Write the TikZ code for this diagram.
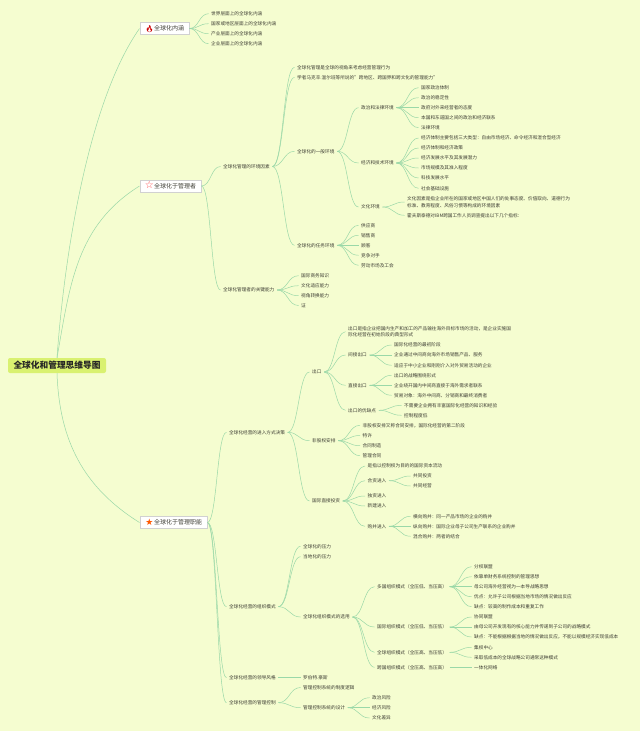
\documentclass[tikz,border=0pt]{standalone}
\usepackage{fontspec}
\setmainfont{Noto Sans CJK SC}
\newfontfamily\emojifont{Noto Emoji}
\newfontfamily\symfont{DejaVu Sans}
\usetikzlibrary{calc}
\definecolor{bg}{HTML}{F5FDD0}
\definecolor{rootfill}{HTML}{D9F170}
\definecolor{line}{HTML}{9AD8A8}
\definecolor{ink}{HTML}{3E3E34}
\newcommand{\ic}[3]{\makebox[9.5pt]{\raisebox{-0.4pt}[0pt][0pt]{\fontsize{#2}{#2}\selectfont\color{#1}#3}}}
\begin{document}
\begin{tikzpicture}[x=1pt,y=-1pt]
\tikzstyle{r}=[rounded corners=2pt,fill=rootfill,minimum width=98pt,minimum height=15pt,inner sep=0pt,font=\fontsize{8.7}{10}\selectfont\bfseries,text=black!85]
\tikzstyle{b}=[anchor=west,draw=black!18,fill=white,minimum height=12pt,inner xsep=5pt,inner ysep=0pt,font=\fontsize{6}{8}\selectfont,text=ink]
\tikzstyle{t}=[anchor=west,inner xsep=2.5pt,inner ysep=0.5pt,xshift=-2.5pt,font=\fontsize{4.65}{6.7}\selectfont,text=ink,align=left]
\tikzstyle{link}=[draw=line,line width=0.5pt,to path={let \p1=(\tikztostart),\p2=(\tikztotarget) in .. controls ({0.5*\x1+0.5*\x2},\y1) and ({0.5*\x1+0.5*\x2},\y2) .. (\tikztotarget)}]
\tikzstyle{main}=[draw=line,line width=0.5pt]
\useasboundingbox[fill=bg] (0,0) rectangle (640,731);

\node[r] (root) at (57,365.5) {全球化和管理思维导图};
\node[b] (b1) at (139.5,28.5) {\ic{red!80!black}{7}{\emojifont 🔥}全球化内涵};
\node[b] (b2) at (139.5,186) {\ic{red!70}{10}{\symfont ☆}全球化于管理者};
\node[b] (b3) at (139.5,522.5) {\ic{orange!70!red}{9}{\symfont ★}全球化于管理职能};

\node[t] (b1a) at (211,13.7) {世界层面上的全球化内涵};
\node[t] (b1b) at (211,23.7) {国家或地区层面上的全球化内涵};
\node[t] (b1c) at (211,33.7) {产业层面上的全球化内涵};
\node[t] (b1d) at (211,43.7) {企业层面上的全球化内涵};

\node[t] (b2a) at (223,166.5) {全球化管理的环境因素};
\node[t] (b2b) at (223,290) {全球化管理者的关键能力};
\node[t] (b2a1) at (297,67.3) {全球化管理是全球的视角来考虑经营管理行为};
\node[t] (b2a2) at (297,77.3) {学者马克辛.温尔班等所说的"跨地区、跨国界和跨文化的管理能力"};
\node[t] (gen) at (297,151.3) {全球化的一般环境};
\node[t] (task) at (297,245.3) {全球化的任务环境};
\node[t] (pol) at (361,107.7) {政治和法律环境};
\node[t] (eco) at (361,163) {经济和技术环境};
\node[t] (cul) at (361,207) {文化环境};
\node[t] (pol1) at (421,87.7) {国家政治体制};
\node[t] (pol2) at (421,97.7) {政治的稳定性};
\node[t] (pol3) at (421,107.7) {政府对外来经营者的态度};
\node[t] (pol4) at (421,117.7) {本国和东道国之间的政治和经济联系};
\node[t] (pol5) at (421,127.7) {法律环境};
\node[t] (eco1) at (421,138) {经济体制主要包括三大类型：自由市场经济、命令经济和混合型经济};
\node[t] (eco2) at (421,148) {经济体制和经济政策};
\node[t] (eco3) at (421,158) {经济发展水平及其发展潜力};
\node[t] (eco4) at (421,168) {市场规模及其准入程度};
\node[t] (eco5) at (421,178) {科技发展水平};
\node[t] (eco6) at (421,188.3) {社会基础设施};
\node[t] (cul1) at (407,202) {文化因素是指企业所在的国家或地区中国人们的处事态度、价值取向、道德行为\\标准、教育程度、风俗习惯等构成的环境因素};
\node[t] (cul2) at (407,215.3) {霍夫斯泰德对IBM跨国工作人员调查提出以下几个指标：};
\node[t] (task1) at (361,225.3) {供应商};
\node[t] (task2) at (361,235.3) {销售商};
\node[t] (task3) at (361,245.3) {顾客};
\node[t] (task4) at (361,255.3) {竞争对手};
\node[t] (task5) at (361,265.3) {劳动市场及工会};
\node[t] (b2b1) at (301,275.7) {国际商务知识};
\node[t] (b2b2) at (301,285.7) {文化适应能力};
\node[t] (b2b3) at (301,295.7) {视角转换能力};
\node[t] (b2b4) at (301,305.5) {证};

\node[t] (entry) at (229,432.3) {全球化经营的进入方式决策};
\node[t] (org) at (229,606.7) {全球化经营的组织模式};
\node[t] (lead) at (229,677.7) {全球化经营的领导风格};
\node[t] (ctrl) at (229,702.7) {全球化经营的管理控制};
\node[t] (exp) at (312,372) {出口};
\node[t] (non) at (312,440.7) {非股权安排};
\node[t] (fdi) at (312,501) {国际直接投资};
\node[t] (exp0) at (348,331.7) {出口是指企业把国内生产和加工的产品输往海外目标市场的活动，是企业实施国\\际化经营在初始阶段的典型形式};
\node[t] (ind) at (348,355) {间接出口};
\node[t] (dir) at (348,385.3) {直接出口};
\node[t] (pro) at (348,410.3) {出口的优缺点};
\node[t] (ind1) at (394,345) {国际化经营的最初阶段};
\node[t] (ind2) at (394,355) {企业通过中间商向海外市场销售产品、服务};
\node[t] (ind3) at (394,365.3) {适应于中小企业和刚刚介入对外贸易活动的企业};
\node[t] (dir1) at (394,375.3) {出口的战略围绕形式};
\node[t] (dir2) at (394,385.3) {企业绕开国内中间商直接于海外需求者联系};
\node[t] (dir3) at (394,395.3) {贸易对象：海外中间商、分销商和最终消费者};
\node[t] (pro1) at (404,405.3) {不需要企业拥有丰富国际化经营的知识和经验};
\node[t] (pro2) at (404,415.3) {控制程度低};
\node[t] (non1) at (362.5,425.3) {非股权安排又称合同安排，国际化经营的第二阶段};
\node[t] (non2) at (362.5,435.5) {特许};
\node[t] (non3) at (362.5,445.7) {合同制造};
\node[t] (non4) at (362.5,455.7) {管理合同};
\node[t] (fdi1) at (367.5,466) {是指以控制权为目的的国际资本流动};
\node[t] (joint) at (367.5,480.7) {合资进入};
\node[t] (fdi3) at (367.5,496) {独资进入};
\node[t] (fdi4) at (367.5,506) {新建进入};
\node[t] (merge) at (367.5,526.3) {购并进入};
\node[t] (joint1) at (413,476) {共同投资};
\node[t] (joint2) at (413,486) {共同经营};
\node[t] (merge1) at (413,516.3) {横向购并：同一产品市场的企业的购并};
\node[t] (merge2) at (413,526.3) {纵向购并：国际企业母子公司生产联系的企业购并};
\node[t] (merge3) at (413,536.3) {混合购并：两者的结合};

\node[t] (org1) at (303,546.3) {全球化的压力};
\node[t] (org2) at (303,556.7) {当地化的压力};
\node[t] (sel) at (303,617) {全球化组织模式的选用};
\node[t] (mul) at (377,586.7) {多国组织模式（全压低、当压高）};
\node[t] (int) at (377,627) {国际组织模式（全压低、当压低）};
\node[t] (glo) at (377,652.3) {全球组织模式（全压高、当压低）};
\node[t] (tra) at (377,667.3) {跨国组织模式（全压高、当压高）};
\node[t] (mul1) at (474,566.7) {分权联盟};
\node[t] (mul2) at (474,576.7) {依靠单财务系统控制的管理思想};
\node[t] (mul3) at (474,586.7) {母公司海外经营视为一本导战略思想};
\node[t] (mul4) at (474,596.7) {优点：允许子公司根据当地市场的情况做出反应};
\node[t] (mul5) at (474,606.7) {缺点：较高的制作成本和重复工作};
\node[t] (int1) at (474,617) {协同联盟};
\node[t] (int2) at (474,627) {由母公司开发现有的核心能力并传递到子公司的战略模式};
\node[t] (int3) at (474,637) {缺点：不能根据根据当地的情况做出反应，不能以规模经济实现低成本};
\node[t] (glo1) at (474,647.3) {集权中心};
\node[t] (glo2) at (474,657.3) {采取低成本的全球战略公司通常这种模式};
\node[t] (tra1) at (474,667.3) {一体化网络};
\node[t] (lead1) at (303,677.7) {罗伯特.豪斯};
\node[t] (ctrl1) at (303,687.5) {管理控制系统的制度逻辑};
\node[t] (ctrl2) at (303,707.7) {管理控制系统的设计};
\node[t] (risk1) at (372,697.7) {政治风险};
\node[t] (risk2) at (372,707.7) {经济风险};
\node[t] (risk3) at (372,718) {文化差异};

\draw[main] (root.north) to[out=86,in=235,looseness=0.7] (b1.west);
\draw[main] (root.north) to[out=80,in=212] (b2.west);
\draw[main] (root.south) to[out=-88,in=148] (b3.west);

\foreach \p/\c in {b1/b1a,b1/b1b,b1/b1c,b1/b1d,
b2/b2a,b2/b2b,b2a/b2a1,b2a/b2a2,b2a/gen,b2a/task,
gen/pol,gen/eco,gen/cul,pol/pol1,pol/pol2,pol/pol3,pol/pol4,pol/pol5,
eco/eco1,eco/eco2,eco/eco3,eco/eco4,eco/eco5,eco/eco6,cul/cul1,cul/cul2,
task/task1,task/task2,task/task3,task/task4,task/task5,
b2b/b2b1,b2b/b2b2,b2b/b2b3,b2b/b2b4,
b3/entry,b3/org,b3/lead,b3/ctrl,entry/exp,entry/non,entry/fdi,
exp/exp0,exp/ind,exp/dir,exp/pro,ind/ind1,ind/ind2,ind/ind3,
dir/dir1,dir/dir2,dir/dir3,pro/pro1,pro/pro2,
non/non1,non/non2,non/non3,non/non4,
fdi/fdi1,fdi/joint,fdi/fdi3,fdi/fdi4,fdi/merge,joint/joint1,joint/joint2,
merge/merge1,merge/merge2,merge/merge3,
org/org1,org/org2,org/sel,sel/mul,sel/int,sel/glo,sel/tra,
mul/mul1,mul/mul2,mul/mul3,mul/mul4,mul/mul5,int/int1,int/int2,int/int3,
glo/glo1,glo/glo2,tra/tra1,lead/lead1,ctrl/ctrl1,ctrl/ctrl2,
ctrl2/risk1,ctrl2/risk2,ctrl2/risk3}
\draw[link] (\p.east) to (\c.west);
\end{tikzpicture}
\end{document}
